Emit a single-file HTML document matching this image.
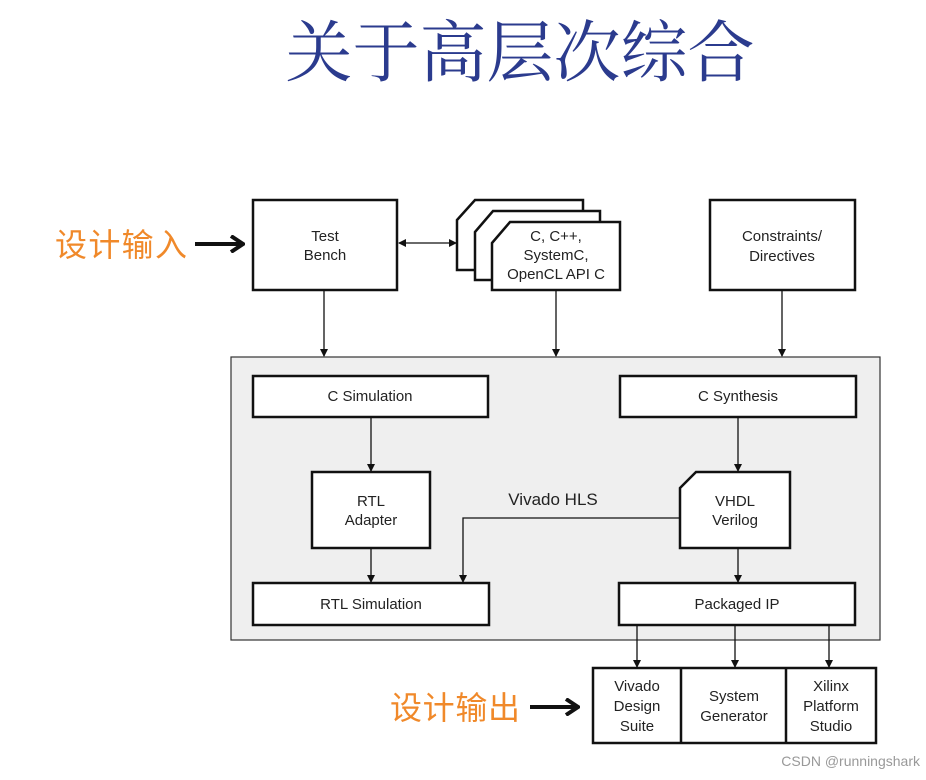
<!DOCTYPE html>
<html><head><meta charset="utf-8"><style>body{margin:0;background:#fff}</style></head><body>
<svg width="926" height="775" viewBox="0 0 926 775" xmlns="http://www.w3.org/2000/svg" font-family="Liberation Sans, Arial, sans-serif">
<defs><marker id="a" markerWidth="8" markerHeight="8" refX="7" refY="4" orient="auto" markerUnits="userSpaceOnUse"><path d="M0,0 L8,4 L0,8 z" fill="#111"/></marker>
<marker id="b" markerWidth="8" markerHeight="8" refX="1" refY="4" orient="auto" markerUnits="userSpaceOnUse"><path d="M8,0 L0,4 L8,8 z" fill="#111"/></marker>
<marker id="c" markerWidth="16" markerHeight="18" refX="14" refY="9" orient="auto" markerUnits="userSpaceOnUse"><path d="M2,1 L14,9 L2,17" fill="none" stroke="#111" stroke-width="4"/></marker></defs>
<text x="520" y="76" text-anchor="middle" font-family="Liberation Serif, Noto Serif CJK SC, serif" font-size="67" fill="#2b3b8e">关于高层次综合</text>
<g stroke="#111" fill="#fff" stroke-width="2.5">
<rect x="253" y="200" width="144" height="90"/>
<path d="M457,220 L475,200 L583,200 L583,270 L457,270 Z"/>
<path d="M475,232 L493,211 L600,211 L600,280 L475,280 Z"/>
<path d="M492,243 L510,222 L620,222 L620,290 L492,290 Z"/>
<rect x="710" y="200" width="145" height="90"/>
</g>
<rect x="231" y="357" width="649" height="283" fill="#efefef" stroke="#333" stroke-width="1.2"/>
<g stroke="#111" fill="#fff" stroke-width="2.5">
<rect x="253" y="376" width="235" height="41"/>
<rect x="620" y="376" width="236" height="41"/>
<rect x="312" y="472" width="118" height="76"/>
<path d="M680,488 L696,472 L790,472 L790,548 L680,548 Z"/>
<rect x="253" y="583" width="236" height="42"/>
<rect x="619" y="583" width="236" height="42"/>
<rect x="593" y="668" width="283" height="75"/>
<line x1="681" y1="668" x2="681" y2="743"/><line x1="786" y1="668" x2="786" y2="743"/>
</g>
<g stroke="#111" stroke-width="1.3" fill="none" marker-end="url(#a)">
<line x1="399" y1="243" x2="456" y2="243" marker-start="url(#b)"/>
<line x1="324" y1="290" x2="324" y2="356"/>
<line x1="556" y1="290" x2="556" y2="356"/>
<line x1="782" y1="290" x2="782" y2="356"/>
<line x1="371" y1="417" x2="371" y2="471"/>
<line x1="371" y1="548" x2="371" y2="582"/>
<line x1="738" y1="417" x2="738" y2="471"/>
<line x1="738" y1="548" x2="738" y2="582"/>
<polyline points="680,518 463,518 463,582"/>
<line x1="637" y1="625" x2="637" y2="667"/>
<line x1="735" y1="625" x2="735" y2="667"/>
<line x1="829" y1="625" x2="829" y2="667"/>
</g>
<g font-size="15" fill="#222" text-anchor="middle">
<text x="325" y="241">Test</text><text x="325" y="260">Bench</text>
<text x="556" y="241">C, C++,</text><text x="556" y="260">SystemC,</text><text x="556" y="279">OpenCL API C</text>
<text x="782" y="241">Constraints/</text><text x="782" y="261">Directives</text>
<text x="370" y="401">C Simulation</text><text x="738" y="401">C Synthesis</text>
<text x="371" y="506">RTL</text><text x="371" y="525">Adapter</text>
<text x="735" y="506">VHDL</text><text x="735" y="525">Verilog</text>
<text x="371" y="609">RTL Simulation</text><text x="737" y="609">Packaged IP</text>
<text x="637" y="691">Vivado</text><text x="637" y="711">Design</text><text x="637" y="731">Suite</text>
<text x="734" y="701">System</text><text x="734" y="721">Generator</text>
<text x="831" y="691">Xilinx</text><text x="831" y="711">Platform</text><text x="831" y="731">Studio</text>
<text x="553" y="505" font-size="17">Vivado HLS</text>
</g>
<g font-family="Liberation Sans, Noto Sans CJK SC, sans-serif" font-size="32" fill="#f0892a">
<text x="55" y="256" textLength="132">设计输入</text><text x="390" y="719" textLength="130">设计输出</text></g>
<g stroke="#111" stroke-width="4" marker-end="url(#c)">
<line x1="195" y1="244" x2="243" y2="244"/><line x1="530" y1="707" x2="578" y2="707"/></g>
<text x="920" y="766" text-anchor="end" font-size="14" fill="#999">CSDN @runningshark</text>
</svg>
</body></html>
